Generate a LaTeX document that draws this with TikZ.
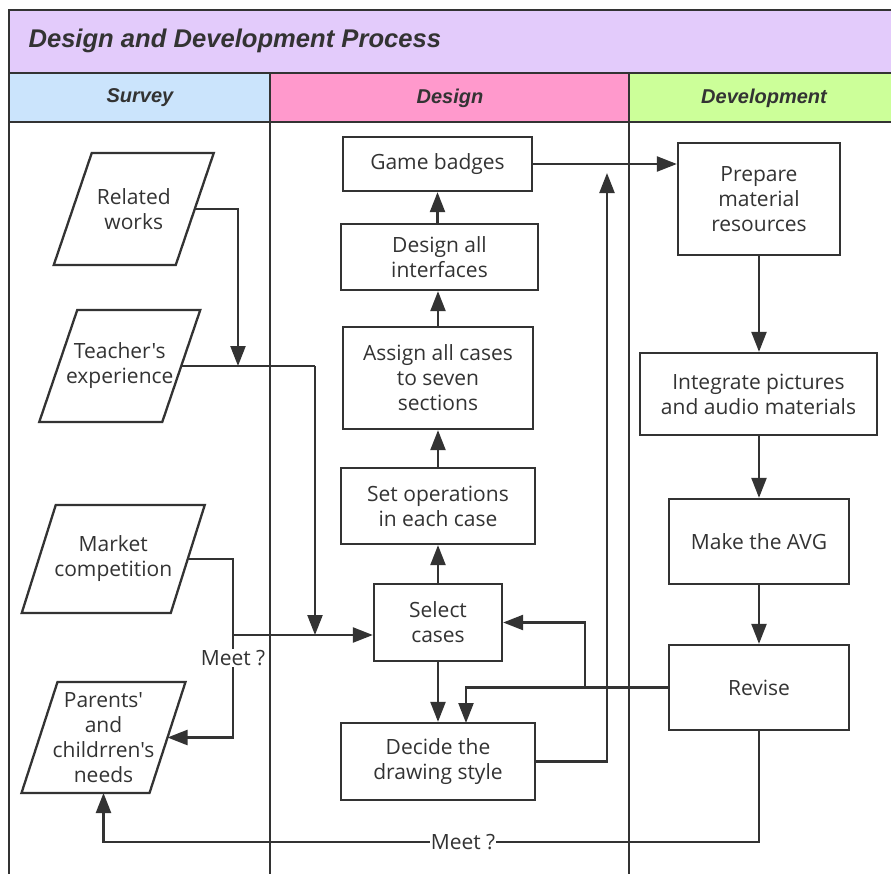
\documentclass[tikz,border=0pt]{standalone}
\usepackage{fontspec}
\setmainfont{Open Sans}[Ligatures=TeXOff]
\newfontfamily\hdrfont{Liberation Sans}
\usetikzlibrary{arrows.meta}
\definecolor{ink}{HTML}{333333}
\definecolor{titlebg}{HTML}{E3CBFB}
\definecolor{surveybg}{HTML}{CBE4FC}
\definecolor{designbg}{HTML}{FF99CC}
\definecolor{devbg}{HTML}{CCFF99}
\tikzset{
  lane/.style={draw=ink, line width=2.2pt},
  box/.style={draw=ink, line width=2.3pt, text=ink, font=\fontsize{21}{25}\selectfont, align=center, inner sep=0pt},
  ptext/.style={text=ink, font=\fontsize{21}{25}\selectfont, align=center, inner sep=0pt},
  conn/.style={draw=ink, line width=2.3pt},
  arr/.style={draw=ink, line width=2.3pt, -{Triangle[length=20pt,width=15pt]}},
  lbl/.style={text=ink, fill=white, font=\fontsize{21}{25}\selectfont, inner sep=1pt},
  hdr/.style={text=ink, font=\hdrfont\bfseries\itshape\fontsize{20}{24}\selectfont},
}
\newcommand\mypara[7]{%
  \draw[ink, line width=2.3pt] (#2-#4/2-#6/2, #3+#5/2) -- (#2+#4/2-#6/2, #3+#5/2) -- (#2+#4/2+#6/2, #3-#5/2) -- (#2-#4/2+#6/2, #3-#5/2) -- cycle;
  \node[ptext] (#1) at (#2,#3) {#7};
  \coordinate (#1E) at (#2+#4/2, #3);
  \coordinate (#1S) at (#2, #3+#5/2);
}
\begin{document}
\begin{tikzpicture}[x=1pt,y=-1pt]
\useasboundingbox (0,0) rectangle (891,873);
\begin{scope}
\clip (0,0) rectangle (891,873);
\fill[white] (0,0) rectangle (891,873);
\fill[titlebg] (9,10) rectangle (900,73);
\fill[surveybg] (9,73) rectangle (270,122);
\fill[designbg] (270,73) rectangle (629,122);
\fill[devbg] (629,73) rectangle (900,122);
\draw[lane] (9,10) -- (900,10);
\draw[lane] (9,73) -- (900,73);
\draw[lane] (9,122) -- (900,122);
\draw[lane] (9,9) -- (9,880);
\draw[lane] (270,73) -- (270,880);
\draw[lane] (629,73) -- (629,880);
\end{scope}
\node[hdr, anchor=west, font=\hdrfont\bfseries\itshape\fontsize{25.6}{30}\selectfont] (title) at (25,41) {Design and Development Process};
\node[hdr] (hsurvey) at (140,98) {Survey};
\node[hdr] (hdesign) at (450,98) {Design};
\node[hdr] (hdev) at (764,98) {Development};

% survey parallelograms
\mypara{rw}{133.75}{209}{122}{112}{38}{Related\\works}
\mypara{te}{119.75}{366}{123}{112}{38}{Teacher's\\experience}
\mypara{mc}{113.25}{559}{149}{108}{34}{Market\\competition}
\mypara{pn}{103.5}{737.5}{128}{111}{36}{Parents'\\and\\childrren's\\needs}

% design boxes
\node[box, minimum width=189pt, minimum height=54pt] (gb) at (437.5,164) {Game badges};
\node[box, minimum width=197pt, minimum height=66pt] (di) at (439.5,257) {Design all\\interfaces};
\node[box, minimum width=190pt, minimum height=102pt] (as) at (438,378) {Assign all cases\\to seven\\sections};
\node[box, minimum width=194pt, minimum height=76pt] (so) at (438,506) {Set operations\\in each case};
\node[box, minimum width=128pt, minimum height=77pt] (sc) at (438,622.5) {Select\\cases};
\node[box, minimum width=194pt, minimum height=77pt] (ds) at (438,761.5) {Decide the\\drawing style};

% development boxes
\node[box, minimum width=162pt, minimum height=112pt] (pm) at (759,199) {Prepare\\material\\resources};
\node[box, minimum width=237pt, minimum height=82pt] (ip) at (758.5,394) {Integrate pictures\\and audio materials};
\node[box, minimum width=180pt, minimum height=85pt] (ma) at (759,541.5) {Make the AVG};
\node[box, minimum width=180pt, minimum height=85pt] (rv) at (759,687.5) {Revise};

% junction coordinates
\coordinate (j1) at (238,366);
\coordinate (j2) at (315,366);
\coordinate (j3) at (233,635);
\coordinate (j4) at (315,635);
\coordinate (k1) at (466,723);
\coordinate (k2) at (585,687.5);
\coordinate (k3) at (607,173);
\coordinate (k4) at (759,842);

% survey connectors
\draw[arr] (rwE) -| (j1);
\draw[conn] (teE) -- (j2);
\draw[arr] (j2) -- (j4);
\draw[conn] (mcE) -| (j3);
\draw[arr] (j3) -- (j3 -| sc.west);
\draw[arr] (j3) |- (pnE);
\node[lbl] (meet1) at (233,658) {Meet ?};

% design connectors
\draw[arr] (so.north) -- (so.north |- as.south);
\draw[arr] (as.north) -- (as.north |- di.south);
\draw[arr] (di.north -| gb.south) -- (gb.south);
\draw[arr] (sc.north) -- (sc.north |- so.south);
\draw[arr] (sc.south) -- (sc.south |- ds.north);
\draw[arr] (ds.east) -| (k3);
\draw[arr] (gb.east) -- (gb.east -| pm.west);

% development connectors
\draw[arr] (pm.south) -- (pm.south |- ip.north);
\draw[arr] (ip.south -| ma.north) -- (ma.north);
\draw[arr] (ma.south) -- (rv.north);
\draw[arr] (rv.west) -| (k1);
\draw[arr] (k2) |- (sc.east);
\draw[arr] (rv.south) -- (k4) -| (pnS);
\node[lbl] (meet2) at (463,842) {Meet ?};
\end{tikzpicture}
\end{document}
